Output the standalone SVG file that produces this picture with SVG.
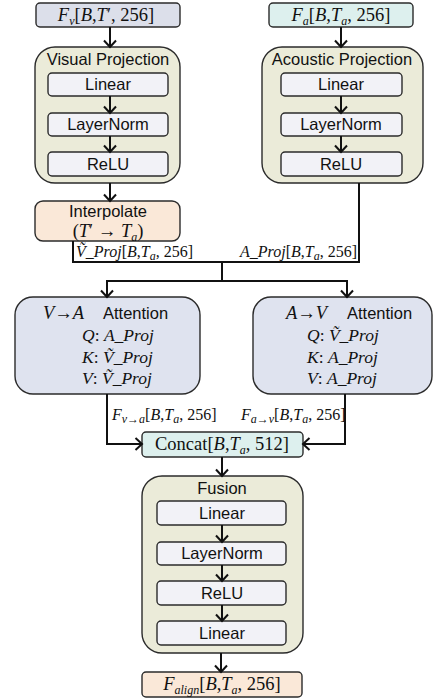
<svg xmlns="http://www.w3.org/2000/svg" width="433" height="698" viewBox="0 0 433 698">
  <style>
    .box { stroke: #2b2b2b; stroke-width: 1.4; }
    .cont { fill: #ebebd9; }
    .inner { fill: #f2f2f7; }
    .vin { fill: #dcdfea; }
    .ain { fill: #ddf0ee; }
    .peach { fill: #fae8d8; }
    .att { fill: #dfe3ef; }
    .sans { font-family: "Liberation Sans", Arial, sans-serif; font-size: 16.5px; fill: #111; }
    .m { font-family: "Liberation Serif", "Times New Roman", serif; font-style: italic; font-size: 18.5px; fill: #111; }
    .mq { font-family: "Liberation Serif", "Times New Roman", serif; font-style: italic; font-size: 17.5px; fill: #111; }
    .ms { font-family: "Liberation Serif", "Times New Roman", serif; font-style: italic; font-size: 16px; fill: #111; }
    .u { font-style: normal; }
    .sb { font-size: 12px; }
    .ln { fill: none; stroke: #111; stroke-width: 2; }
  </style>
  <defs>
    <marker id="arr" viewBox="-8 -8 10 16" markerWidth="10" markerHeight="16" refX="0" refY="0" orient="auto" markerUnits="userSpaceOnUse">
      <path d="M-6.5,-6 L0,0 L-6.5,6" fill="none" stroke="#111" stroke-width="2"/>
    </marker>
  </defs>

  <!-- visual input -->
  <g id="fv-input">
    <rect class="box vin" x="36" y="3" width="144" height="24" rx="4"/>
    <text class="m" x="106" y="21" text-anchor="middle">F<tspan class="sb" dy="4">v</tspan><tspan class="u" dy="-4">[</tspan>B<tspan class="u">,</tspan>T<tspan class="u">′, 256]</tspan></text>
  </g>

  <!-- acoustic input -->
  <g id="fa-input">
    <rect class="box ain" x="269" y="3" width="144" height="24" rx="4"/>
    <text class="m" x="341" y="21" text-anchor="middle">F<tspan class="sb" dy="4">a</tspan><tspan class="u" dy="-4">[</tspan>B<tspan class="u">,</tspan>T<tspan class="sb" dy="4">a</tspan><tspan class="u" dy="-4">, 256]</tspan></text>
  </g>

  <!-- visual projection -->
  <g id="visual-projection">
    <rect class="box cont" x="35" y="47" width="145" height="136" rx="20"/>
    <text class="sans" x="108" y="65" text-anchor="middle">Visual Projection</text>
    <rect class="box inner" x="48" y="73" width="120" height="23" rx="4"/>
    <text class="sans" x="108" y="90" text-anchor="middle">Linear</text>
    <rect class="box inner" x="48" y="113" width="120" height="23" rx="4"/>
    <text class="sans" x="108" y="130" text-anchor="middle">LayerNorm</text>
    <rect class="box inner" x="48" y="152" width="120" height="24" rx="4"/>
    <text class="sans" x="108" y="170" text-anchor="middle">ReLU</text>
  </g>

  <!-- acoustic projection -->
  <g id="acoustic-projection">
    <rect class="box cont" x="262" y="47" width="161" height="136" rx="20"/>
    <text class="sans" x="342" y="65" text-anchor="middle">Acoustic Projection</text>
    <rect class="box inner" x="281" y="73" width="121" height="23" rx="4"/>
    <text class="sans" x="341" y="90" text-anchor="middle">Linear</text>
    <rect class="box inner" x="281" y="113" width="121" height="23" rx="4"/>
    <text class="sans" x="341" y="130" text-anchor="middle">LayerNorm</text>
    <rect class="box inner" x="281" y="152" width="121" height="24" rx="4"/>
    <text class="sans" x="341" y="170" text-anchor="middle">ReLU</text>
  </g>

  <!-- interpolate -->
  <g id="interpolate">
    <rect class="box peach" x="35" y="201" width="145" height="40" rx="8"/>
    <text class="sans" x="108" y="217" text-anchor="middle">Interpolate</text>
    <text class="m" x="108" y="237" text-anchor="middle"><tspan class="u">(</tspan>T<tspan class="u">′ → </tspan>T<tspan class="sb" dy="4">a</tspan><tspan class="u" dy="-4">)</tspan></text>
  </g>

  <!-- V to A attention -->
  <g id="attention-v2a">
    <rect class="box att" x="15" y="297" width="185" height="97" rx="18"/>
    <text class="m" x="43" y="319">V<tspan class="u">→</tspan>A</text>
    <text class="sans" x="103" y="319">Attention</text>
    <text class="mq" x="82" y="341">Q<tspan class="u">: </tspan>A_Proj</text>
    <text class="mq" x="82" y="363">K<tspan class="u">: </tspan>Ṽ_Proj</text>
    <text class="mq" x="82" y="384">V<tspan class="u">: </tspan>Ṽ_Proj</text>
  </g>

  <!-- A to V attention -->
  <g id="attention-a2v">
    <rect class="box att" x="253" y="297" width="179" height="97" rx="18"/>
    <text class="m" x="286" y="319">A<tspan class="u">→</tspan>V</text>
    <text class="sans" x="347" y="319">Attention</text>
    <text class="mq" x="307" y="341">Q<tspan class="u">: </tspan>Ṽ_Proj</text>
    <text class="mq" x="307" y="363">K<tspan class="u">: </tspan>A_Proj</text>
    <text class="mq" x="307" y="384">V<tspan class="u">: </tspan>A_Proj</text>
  </g>

  <!-- concat -->
  <g id="concat">
    <rect class="box ain" x="142" y="432" width="161" height="25" rx="4"/>
    <text class="m" x="222" y="450" text-anchor="middle"><tspan class="u">Concat[</tspan>B<tspan class="u">,</tspan>T<tspan class="sb" dy="4">a</tspan><tspan class="u" dy="-4">, 512]</tspan></text>
  </g>

  <!-- fusion -->
  <g id="fusion">
    <rect class="box cont" x="142" y="476" width="161" height="177" rx="20"/>
    <text class="sans" x="222" y="494" text-anchor="middle">Fusion</text>
    <rect class="box inner" x="157" y="501" width="129" height="24" rx="4"/>
    <text class="sans" x="222" y="519" text-anchor="middle">Linear</text>
    <rect class="box inner" x="157" y="542" width="129" height="23" rx="4"/>
    <text class="sans" x="222" y="559" text-anchor="middle">LayerNorm</text>
    <rect class="box inner" x="157" y="581" width="129" height="24" rx="4"/>
    <text class="sans" x="222" y="599" text-anchor="middle">ReLU</text>
    <rect class="box inner" x="157" y="621" width="129" height="24" rx="4"/>
    <text class="sans" x="222" y="639" text-anchor="middle">Linear</text>
  </g>

  <!-- aligned output -->
  <g id="f-align">
    <rect class="box peach" x="142" y="672" width="160" height="25" rx="4"/>
    <text class="m" x="222" y="690" text-anchor="middle">F<tspan class="sb" dy="4">align</tspan><tspan class="u" dy="-4">[</tspan>B<tspan class="u">,</tspan>T<tspan class="sb" dy="4">a</tspan><tspan class="u" dy="-4">, 256]</tspan></text>
  </g>

  <!-- connectors -->
  <g id="connectors" class="ln">
    <line x1="110" y1="27" x2="110" y2="47" marker-end="url(#arr)"/>
    <line x1="341" y1="27" x2="341" y2="47" marker-end="url(#arr)"/>
    <line x1="110" y1="96" x2="110" y2="113" marker-end="url(#arr)"/>
    <line x1="110" y1="136" x2="110" y2="152" marker-end="url(#arr)"/>
    <line x1="341" y1="96" x2="341" y2="113" marker-end="url(#arr)"/>
    <line x1="341" y1="136" x2="341" y2="152" marker-end="url(#arr)"/>
    <line x1="110" y1="183" x2="110" y2="201" marker-end="url(#arr)"/>
    <polyline points="73,241 73,262 359,262 359,183"/>
    <polyline points="222,262 222,281"/>
    <polyline points="107,281 347,281"/>
    <line x1="107" y1="280" x2="107" y2="297" marker-end="url(#arr)"/>
    <line x1="347" y1="280" x2="347" y2="297" marker-end="url(#arr)"/>
    <polyline points="107,394 107,444 142,444" marker-end="url(#arr)"/>
    <polyline points="345,394 345,444 303,444" marker-end="url(#arr)"/>
    <line x1="222" y1="457" x2="222" y2="476" marker-end="url(#arr)"/>
    <line x1="222" y1="525" x2="222" y2="542" marker-end="url(#arr)"/>
    <line x1="222" y1="565" x2="222" y2="581" marker-end="url(#arr)"/>
    <line x1="222" y1="605" x2="222" y2="621" marker-end="url(#arr)"/>
    <line x1="221" y1="653" x2="221" y2="672" marker-end="url(#arr)"/>
  </g>

  <!-- edge labels -->
  <g id="edge-labels">
    <text class="ms" x="76" y="257">Ṽ_Proj<tspan class="u">[</tspan>B<tspan class="u">,</tspan>T<tspan class="sb" dy="3">a</tspan><tspan class="u" dy="-3">, 256]</tspan></text>
    <text class="ms" x="240" y="257">A_Proj<tspan class="u">[</tspan>B<tspan class="u">,</tspan>T<tspan class="sb" dy="3">a</tspan><tspan class="u" dy="-3">, 256]</tspan></text>
    <text class="ms" x="112" y="420">F<tspan class="sb" dy="3">v→a</tspan><tspan class="u" dy="-3">[</tspan>B<tspan class="u">,</tspan>T<tspan class="sb" dy="3">a</tspan><tspan class="u" dy="-3">, 256]</tspan></text>
    <text class="ms" x="241" y="420">F<tspan class="sb" dy="3">a→v</tspan><tspan class="u" dy="-3">[</tspan>B<tspan class="u">,</tspan>T<tspan class="sb" dy="3">a</tspan><tspan class="u" dy="-3">, 256]</tspan></text>
  </g>
</svg>
